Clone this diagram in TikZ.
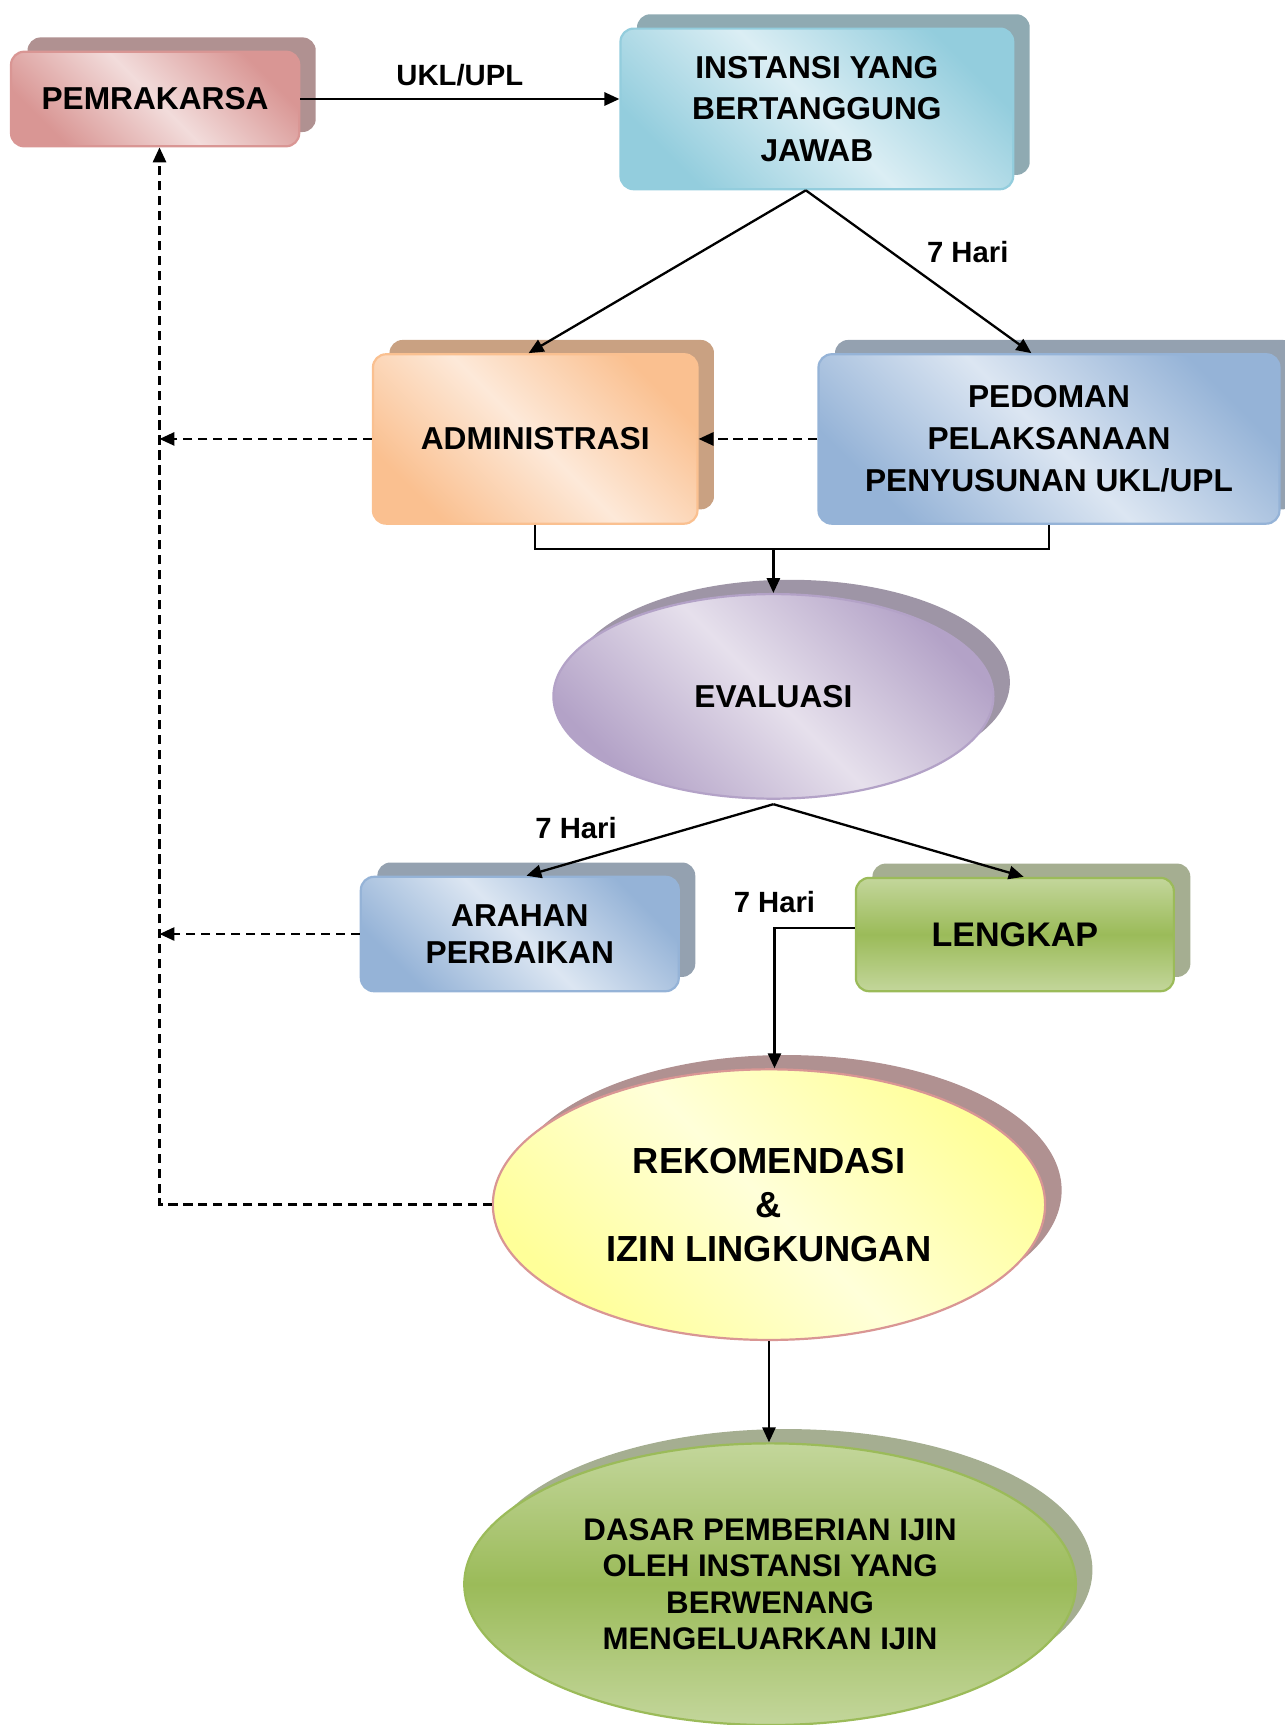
\documentclass[tikz,border=0pt]{standalone}
\usepackage{fontspec}
\setmainfont{Liberation Sans}
\usetikzlibrary{shapes.geometric, shadows, arrows.meta}

\definecolor{RedLight}{HTML}{F2DCDB}
\definecolor{RedDark}{HTML}{D99694}
\definecolor{RedShade}{HTML}{B09191}
\definecolor{AquaLight}{HTML}{DBEEF4}
\definecolor{AquaDark}{HTML}{93CDDD}
\definecolor{AquaShade}{HTML}{8FAAB2}
\definecolor{OrangeLight}{HTML}{FDE9D9}
\definecolor{OrangeDark}{HTML}{FAC090}
\definecolor{OrangeShade}{HTML}{C9A182}
\definecolor{BlueLight}{HTML}{DCE6F2}
\definecolor{BlueDark}{HTML}{95B3D7}
\definecolor{BlueShade}{HTML}{94A1B0}
\definecolor{PurpleLight}{HTML}{E6E0EC}
\definecolor{PurpleDark}{HTML}{B3A2C7}
\definecolor{PurpleShade}{HTML}{9E95A6}
\definecolor{GreenLight}{HTML}{C3D69B}
\definecolor{GreenDark}{HTML}{9BBB59}
\definecolor{GreenShade}{HTML}{A5AE91}
\definecolor{YellowLight}{HTML}{FFFFD9}
\definecolor{YellowDark}{HTML}{FFFF99}

\tikzset{
  card/.style={rectangle, rounded corners=6pt, line width=1pt, align=center,
    inner sep=0pt, font=\bfseries\fontsize{14.4}{19}\selectfont},
  oval/.style={ellipse, line width=1pt, align=center, inner sep=0pt},
  paint/.style n args={3}{draw=#2, top color=#2, bottom color=#2,
    middle color=#1, shading angle=-45,
    drop shadow={shadow xshift=7.5pt, shadow yshift=6.5pt, fill=#3, opacity=1}},
  link/.style={line width=1.05pt, -{Triangle[length=6.8pt, width=6pt]}},
  back/.style={link, dash pattern=on 4.2pt off 2.6pt},
  days/.style={font=\bfseries\fontsize{13.3}{16}\selectfont}
}

\begin{document}
\begin{tikzpicture}[x=0.5pt, y=-0.5pt]
    \useasboundingbox (0, 0) rectangle (1168, 1568);
    % Top row
    \node [card, paint={RedLight}{RedDark}{RedShade},
      minimum width=131pt, minimum height=43pt] (pem) at (141, 90) {PEMRAKARSA};
    \node [card, paint={AquaLight}{AquaDark}{AquaShade},
      minimum width=178.5pt, minimum height=73pt] (inst) at (742.5, 99)
      {INSTANSI YANG\\BERTANGGUNG\\JAWAB};
    % Second row
    \node [card, paint={OrangeLight}{OrangeDark}{OrangeShade},
      minimum width=147.5pt, minimum height=77pt] (adm) at (486.5, 399) {ADMINISTRASI};
    \node [card, paint={BlueLight}{BlueDark}{BlueShade},
      minimum width=209.5pt, minimum height=77pt] (ped) at (953.5, 399)
      {PEDOMAN\\PELAKSANAAN\\PENYUSUNAN UKL/UPL};
    % Evaluation
    \node [oval, paint={PurpleLight}{PurpleDark}{PurpleShade},
      font=\bfseries\fontsize{14.4}{19}\selectfont,
      minimum width=200pt, minimum height=93pt] (eva) at (703, 633) {EVALUASI};
    \node [card, paint={BlueLight}{BlueDark}{BlueShade},
      font=\bfseries\fontsize{14.4}{17}\selectfont,
      minimum width=144.5pt, minimum height=52pt] (ara) at (472.5, 849)
      {ARAHAN\\PERBAIKAN};
    \node [card, paint={GreenDark}{GreenLight}{GreenShade}, draw=GreenDark,
      shading angle=0, font=\bfseries\fontsize{15.5}{19}\selectfont,
      minimum width=144.5pt, minimum height=51.5pt] (len) at (922.5, 849.5) {LENGKAP};
    % Results
    \node [oval, paint={YellowLight}{YellowDark}{RedShade}, draw=RedDark,
      font=\bfseries\fontsize{16.5}{20}\selectfont,
      minimum width=251pt, minimum height=123pt] (rek) at (699, 1095)
      {REKOMENDASI\\\&\\IZIN LINGKUNGAN};
    \node [oval, paint={GreenDark}{GreenLight}{GreenShade}, draw=GreenDark,
      shading angle=0, font=\bfseries\fontsize{14.2}{16.5}\selectfont,
      minimum width=278pt, minimum height=128pt] (das) at (700, 1440)
      {DASAR PEMBERIAN IJIN\\OLEH INSTANSI YANG\\BERWENANG\\MENGELUARKAN IJIN};

    % Connectors
    \coordinate (top) at ([xshift=-5pt]inst.south);
    \coordinate (join) at ([yshift=20pt]eva.north);
    \coordinate (fork) at ([yshift=-2pt]eva.south);
    \coordinate (rail) at (145, 0);
    \draw [link] (pem.east) -- (pem.east -| inst.west)
      node [midway, above=2pt, days] {UKL/UPL};
    \draw [link] (top) -- ([xshift=-3pt]adm.north);
    \draw [link] (top) -- ([xshift=-8pt]ped.north)
      node [pos=.5, above right, days] {7 Hari};
    \draw [back] (ped.west) -- (adm.east);
    \draw [line width=1.05pt] (adm.south) |- (join) -| (ped.south);
    \draw [link] (join) -- (eva.north);
    \draw [link] (fork) -- ([xshift=3pt]ara.north)
      node [pos=.6, above left, days] {7 Hari};
    \draw [link] (fork) -- ([xshift=4pt]len.north);
    \draw [link] ([yshift=3pt]len.west) -| ([xshift=2.5pt]rek.north)
      node [pos=.5, above=3pt, days] {7 Hari};
    \draw [link] (rek.south) -- (rek.south |- das.north);
    % Feedback to the proponent
    \draw [back] (adm.west) -- (adm.west -| rail);
    \draw [back] (ara.west) -- (ara.west -| rail);
    \draw [back] (rek.west) -- (rek.west -| rail) -- (rail |- pem.south);
\end{tikzpicture}
\end{document}
